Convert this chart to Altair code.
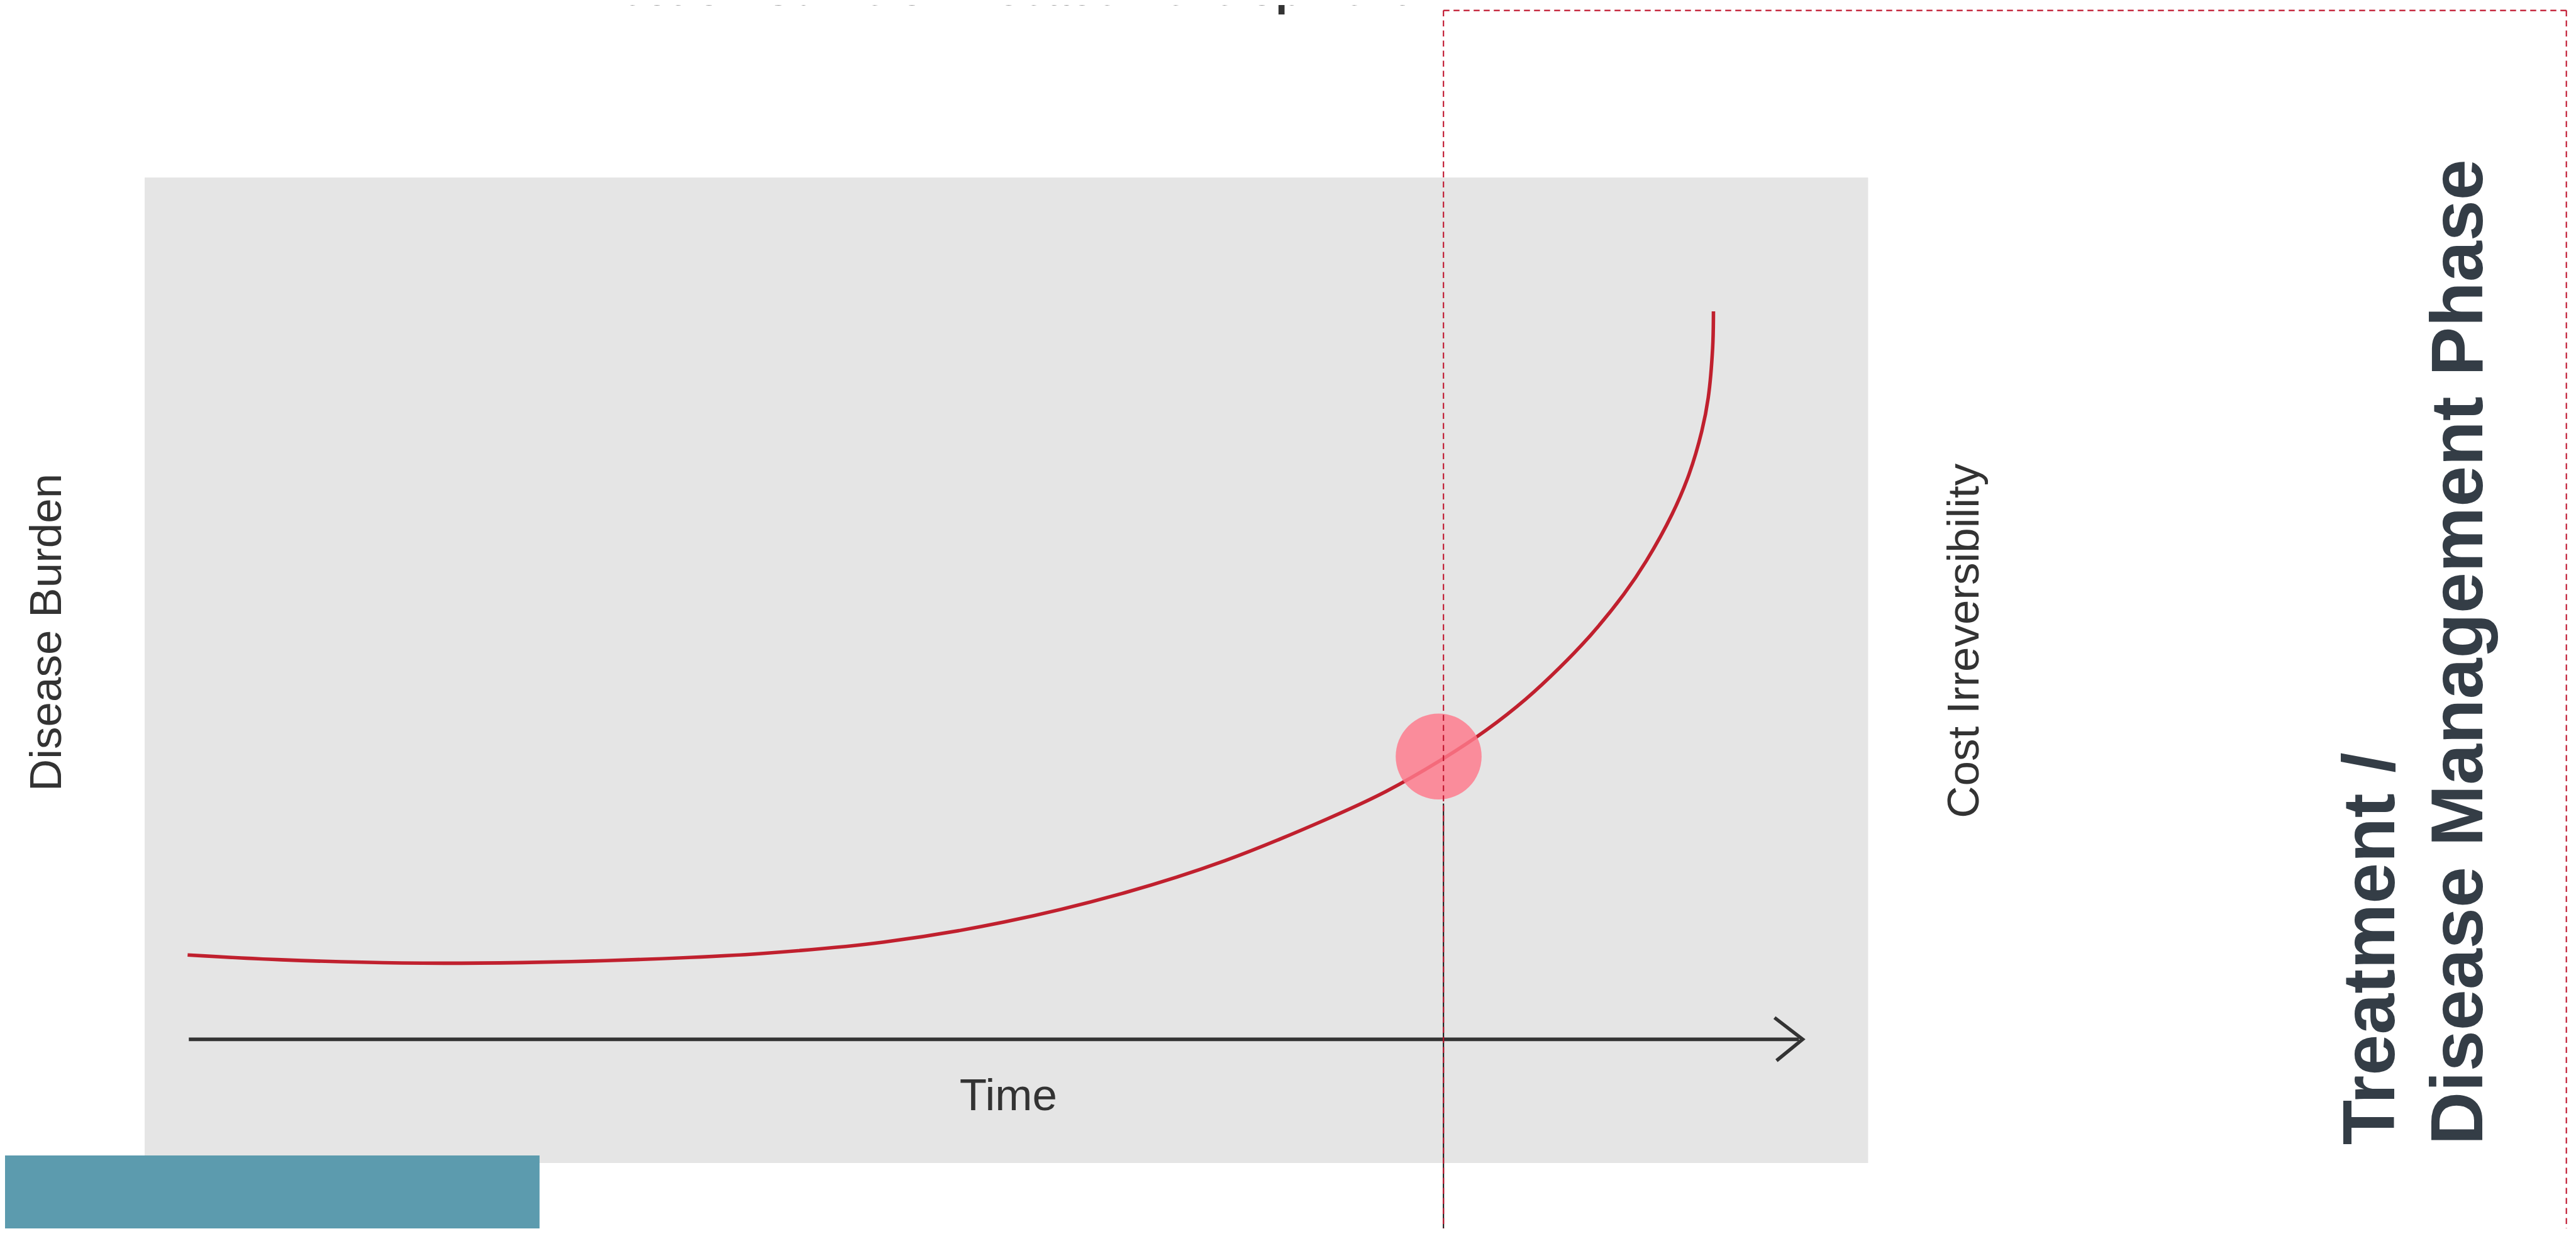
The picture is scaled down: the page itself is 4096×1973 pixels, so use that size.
import altair as alt
import pandas as pd

# All positions are read off the 6412 x 3089 reference, in its pixels
# (x from the left edge, y from the top edge).
CANVAS_W, CANVAS_H = 6412, 3089

panel_x = [360, 4650]
panel_y = [442, 2895]

band_x = [0, 1343]
band_y = [2876, 3089]

curve_time = [467, 700, 1000, 1300, 1600, 1900, 2200, 2500, 2800, 3050, 3300,
              3450, 3593, 3700, 3798, 3882, 3961, 4042, 4098, 4162, 4204, 4236,
              4252, 4263, 4265]
curve_burden = [2377, 2389, 2397, 2396, 2388, 2373, 2345, 2295, 2222, 2142, 2040,
                1970, 1888, 1817, 1740, 1662, 1579, 1479, 1396, 1280, 1181, 1073,
                990, 866, 775]

time_axis_x = [470, 4478]
time_axis_y = [2587]
arrow_head_x = [4417, 4487, 4422]
arrow_head_y = [2533, 2587, 2640]

marker_x = [3581]
marker_y = [1883]

divider_x = [3593]
box_top = [26]
box_right = [6388]
box_bottom = [3089]
shadow_top = [2000]

title_text = ["Infection Curve of Disease Development"]
title_pos = [(2456, 13)]
time_label = ["Time"]
time_pos = [(2510, 2764)]
side_labels = ["Disease Burden", "Cost Irreversibility"]
side_pos = [(119, 1574), (4892, 1595)]
phase_lines = ["Treatment /", "Disease Management Phase"]
phase_pos = [(5960, 2850), (6179, 2850)]

# ---------------------------------------------------------------------------
W, H = 4080, 1945
xs = alt.Scale(domain=[0, CANVAS_W], range=[-8, 4088], zero=False, nice=False)
ys = alt.Scale(domain=[0, CANVAS_H], range=[-8, 1965], zero=False, nice=False)


def X(f="x"):
    return alt.X(f"{f}:Q", scale=xs, axis=None)


def Y(f="y"):
    return alt.Y(f"{f}:Q", scale=ys, axis=None)


panel = alt.Chart(pd.DataFrame({"x": [panel_x[0]], "x2": [panel_x[1]],
                                "y": [panel_y[0]], "y2": [panel_y[1]]})).mark_rect(
    color="#e5e5e5").encode(x=X(), x2="x2:Q", y=Y(), y2="y2:Q")

band = alt.Chart(pd.DataFrame({"x": [band_x[0]], "x2": [band_x[1]],
                               "y": [band_y[0]], "y2": [band_y[1]]})).mark_rect(
    color="#5c9bae").encode(x=X(), x2="x2:Q", y=Y(), y2="y2:Q")

curve_df = pd.DataFrame({"x": curve_time, "y": curve_burden, "i": range(len(curve_time))})
curve = alt.Chart(curve_df).mark_line(
    color="#c0202e", strokeWidth=5.6, interpolate="catmull-rom", strokeCap="butt").encode(
    x=X(), y=Y(), order="i:Q")

axis_line = alt.Chart(pd.DataFrame({"x": [time_axis_x[0]], "x2": [time_axis_x[1]],
                                    "y": time_axis_y})).mark_rule(
    color="#333333", strokeWidth=5.6).encode(x=X(), x2="x2:Q", y=Y())

head_df = pd.DataFrame({"x": arrow_head_x, "y": arrow_head_y, "i": [0, 1, 2]})
arrow_head = alt.Chart(head_df).mark_line(
    color="#333333", strokeWidth=5.6, strokeJoin="miter", strokeCap="butt").encode(
    x=X(), y=Y(), order="i:Q")

shadow = alt.Chart(pd.DataFrame({"x": divider_x, "y": shadow_top, "y2": box_bottom})).mark_rule(
    color="#111111", strokeWidth=2).encode(x=X(), y=Y(), y2="y2:Q")

marker = alt.Chart(pd.DataFrame({"x": marker_x, "y": marker_y})).mark_circle(
    color="#fe7a8c", opacity=0.83, size=18660).encode(x=X(), y=Y())

dash = [9.5, 6.5]
box_left = alt.Chart(pd.DataFrame({"x": divider_x, "y": box_top, "y2": box_bottom})).mark_rule(
    color="#c0162e", strokeWidth=2.1, strokeDash=dash).encode(x=X(), y=Y(), y2="y2:Q")
box_top_edge = alt.Chart(pd.DataFrame({"x": divider_x, "x2": box_right, "y": box_top})).mark_rule(
    color="#c0162e", strokeWidth=2.1, strokeDash=dash).encode(x=X(), x2="x2:Q", y=Y())
box_right_edge = alt.Chart(pd.DataFrame({"x": box_right, "y": box_top, "y2": box_bottom})).mark_rule(
    color="#c0162e", strokeWidth=2.1, strokeDash=dash).encode(x=X(), y=Y(), y2="y2:Q")

FONT = "Liberation Sans"


def text_df(texts, pos):
    return pd.DataFrame({"t": texts, "x": [p[0] for p in pos], "y": [p[1] for p in pos]})


title = alt.Chart(text_df(title_text, title_pos)).mark_text(
    font=FONT, fontSize=70, fontWeight="bold", color="#333333",
    align="center", baseline="alphabetic").encode(x=X(), y=Y(), text="t:N")

time_txt = alt.Chart(text_df(time_label, time_pos)).mark_text(
    font=FONT, fontSize=71, color="#333333",
    align="center", baseline="alphabetic").encode(x=X(), y=Y(), text="t:N")

side_txt = alt.Chart(text_df(side_labels, side_pos)).mark_text(
    font=FONT, fontSize=71, color="#333333", angle=270,
    align="center", baseline="middle").encode(x=X(), y=Y(), text="t:N")

phase_txt = alt.Chart(text_df(phase_lines, phase_pos)).mark_text(
    font=FONT, fontSize=117, fontWeight="bold", color="#343d46", angle=270,
    align="left", baseline="alphabetic").encode(x=X(), y=Y(), text="t:N")

chart = alt.layer(
    panel, band, curve, axis_line, arrow_head, shadow, marker,
    box_left, box_top_edge, box_right_edge,
    title, time_txt, side_txt, phase_txt,
).properties(
    width=W, height=H, padding=0, background="white",
    autosize=alt.AutoSizeParams(type="none"),
).configure_view(stroke=None)

chart.save("out.html", embed_options={"renderer": "svg", "actions": False})
